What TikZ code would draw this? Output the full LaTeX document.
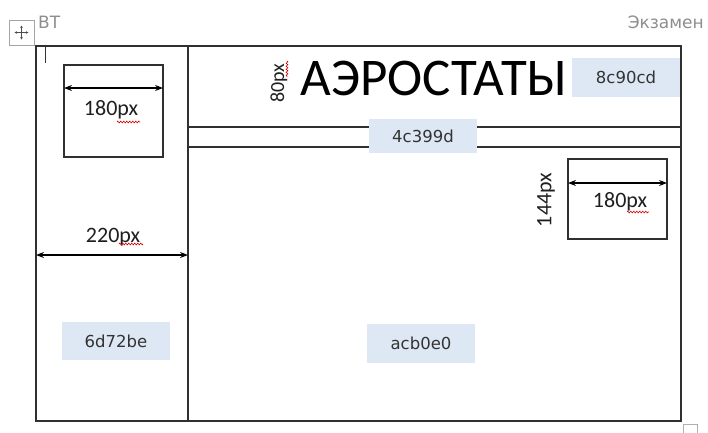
\documentclass[tikz,border=0pt]{standalone}
\usepackage{fontspec}
\setmainfont{Carlito}
\newfontfamily\tagfont{DejaVu Sans}
\usetikzlibrary{arrows.meta,decorations.pathmorphing}
\definecolor{tagblue}{HTML}{DEE8F4}
\definecolor{uigray}{HTML}{8E8E8E}
\definecolor{linecol}{HTML}{303030}
\begin{document}
\begin{tikzpicture}[x=1pt,y=-1pt,
  boxshape/.style={draw=linecol, line width=1.4pt, inner sep=0pt, outer sep=0pt, anchor=north west},
  tag/.style={fill=tagblue, inner sep=0pt, minimum width=108pt, font=\tagfont\fontsize{16.5}{18}\selectfont, text=black!80},
  dimline/.style={line width=1.1pt, {Stealth[length=8pt,width=6pt]}-{Stealth[length=8pt,width=6pt]}},
  dimtext/.style={font=\fontsize{22}{24}\selectfont, text=black!88, inner sep=0pt},
  squig/.style={draw=red!85!black, line width=0.6pt, decorate, decoration={zigzag, segment length=3pt, amplitude=0.9pt}},
  uitext/.style={font=\tagfont\fontsize{17}{19}\selectfont, text=uigray, inner sep=0pt}
]
\useasboundingbox (0,0) rectangle (708,432);
\fill[white] (0,0) rectangle (708,432);

% frames
\node[boxshape, minimum width=645pt, minimum height=375pt] (outer) at (36,46) {};
\node[boxshape, minimum width=152pt, minimum height=375pt] (leftcol) at (36,46) {};
\node[boxshape, minimum width=493pt, minimum height=20pt] (navbar) at (188,127) {};
\node[boxshape, minimum width=99pt, minimum height=92pt] (lbox) at (64,65) {};
\node[boxshape, minimum width=99pt, minimum height=80pt] (rbox) at (568,159) {};

% colour tags
\node[tag, minimum height=39pt] (t8c) at (626,77.5) {8c90cd};
\node[tag, minimum height=34pt] (t4c) at (423,136) {4c399d};
\node[tag, minimum height=38pt] (t6d) at (116,341) {6d72be};
\node[tag, minimum height=39pt] (tac) at (421,343.5) {acb0e0};

% title
\node[font=\fontsize{53}{55}\selectfont, inner sep=0pt] (title) at (434,78) {АЭРОСТАТЫ};
\node[dimtext, rotate=90, font=\fontsize{20}{22}\selectfont] (h80) at (279,83) {80px};

% dimension arrows
\draw[dimline] ([yshift=-23pt]lbox.north west) -- ([yshift=-23pt]lbox.north east);
\node[dimtext] (w180a) at (111,110) {180px};
\draw[dimline] ([yshift=-24pt]rbox.north west) -- ([yshift=-24pt]rbox.north east);
\node[dimtext] (w180b) at (620,202) {180px};
\node[dimtext, rotate=90] (h144) at (546,200) {144px};
\draw[dimline] ([yshift=-21.5pt]leftcol.west) -- ([yshift=-21.5pt]leftcol.east);
\node[dimtext] (w220) at (113,237) {220px};

% spell-check squiggles
\draw[squig] (117,122) -- (140,122);
\draw[squig] (627,212) -- (649,212);
\draw[squig] (119,244) -- (143,244);
\draw[squig] (287,61) -- (287,77);

% editor chrome
\node[uitext, anchor=west] (bt) at (38,22) {ВТ};
\node[uitext, anchor=east] (exam) at (704,22) {Экзамен};
\node[draw=uigray!80, line width=0.8pt, minimum width=25pt, minimum height=25pt, inner sep=0pt] (move) at (21.5,32.5) {};
\draw[line width=0.8pt, black!70, {Stealth[length=2.5pt,width=2.5pt]}-{Stealth[length=2.5pt,width=2.5pt]}] ([xshift=-7pt]move.center) -- ([xshift=7pt]move.center);
\draw[line width=0.8pt, black!70, {Stealth[length=2.5pt,width=2.5pt]}-{Stealth[length=2.5pt,width=2.5pt]}] ([yshift=-7pt]move.center) -- ([yshift=7pt]move.center);
\draw[line width=0.8pt, black!80] (45,47) -- (45,63);
\draw[line width=0.8pt, uigray!70] (683,440) -- (683,424) -- (697,424) -- (697,440);
\end{tikzpicture}
\end{document}
